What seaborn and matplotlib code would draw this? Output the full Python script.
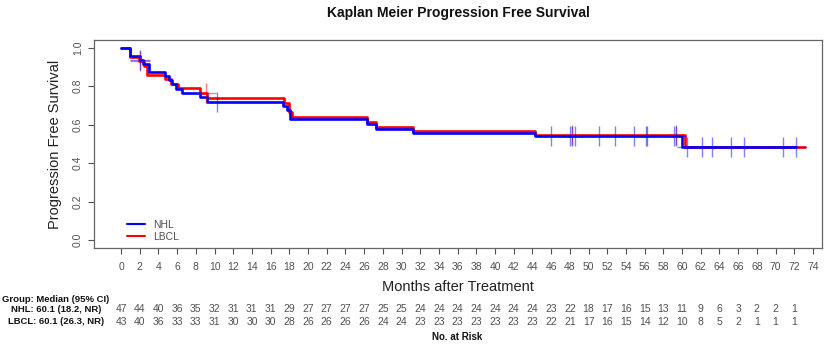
import numpy as np
import pandas as pd
import matplotlib
matplotlib.use("Agg")
import matplotlib.pyplot as plt
import matplotlib.transforms as mtrans
from matplotlib.lines import Line2D
import seaborn as sns

# ---------------- data ----------------
title = "Kaplan Meier Progression Free Survival"
x_label = "Months after Treatment"
y_label = "Progression Free Survival"

nhl_time = [0, 1.0, 2.0, 2.4, 3.0, 4.7, 5.1, 5.5, 5.9, 6.5, 8.45, 9.2,
            17.3, 17.8, 18.1, 26.3, 27.3, 31.2, 44.3, 60.0, 72.2]
nhl_surv = [1.0, 0.957, 0.936, 0.915, 0.872, 0.851, 0.830, 0.809, 0.787, 0.766,
            0.742, 0.716, 0.697, 0.675, 0.632, 0.606, 0.580, 0.555, 0.540, 0.485, 0.485]
nhl_censor = [2.0, 10.3, 46.0, 48.0, 48.2, 48.6, 51.1, 52.8, 54.9, 56.2, 56.3,
              59.1, 59.4, 60.5, 62.1, 63.2, 65.2, 66.6, 70.8, 72.2]

lbcl_time = [0, 1.0, 1.9, 2.5, 2.8, 4.7, 5.3, 6.1, 8.45, 9.2, 17.4, 18.0, 18.3,
             26.3, 27.3, 31.2, 44.3, 60.3, 73.2]
lbcl_surv = [1.0, 0.953, 0.930, 0.907, 0.858, 0.835, 0.812, 0.789, 0.763, 0.738,
             0.713, 0.664, 0.641, 0.615, 0.589, 0.566, 0.546, 0.485, 0.485]
lbcl_censor = [2.0, 9.05, 48.2, 59.4]

x_ticks = list(range(0, 75, 2))
y_ticks = [0.0, 0.2, 0.4, 0.6, 0.8, 1.0]
risk_times = list(range(0, 73, 2))
nhl_risk = [47, 44, 40, 36, 35, 32, 31, 31, 31, 29, 27, 27, 27, 27, 25, 25, 24, 24, 24,
            24, 24, 24, 24, 23, 22, 18, 17, 16, 15, 13, 11, 9, 6, 3, 2, 2, 1]
lbcl_risk = [43, 40, 36, 33, 33, 31, 30, 30, 30, 28, 26, 26, 26, 26, 24, 24, 23, 23, 23,
             23, 23, 23, 23, 22, 21, 17, 16, 15, 14, 12, 10, 8, 5, 2, 1, 1, 1]
risk_header = "Group: Median (95% CI)"
nhl_label = "NHL: 60.1 (18.2, NR)"
lbcl_label = "LBCL: 60.1 (26.3, NR)"
risk_title = "No. at Risk"

# ---------------- style ----------------
sns.set_style("white")
plt.rcParams["font.family"] = ["Liberation Sans", "DejaVu Sans"]
GRAY = "#505050"

fig = plt.figure(figsize=(8.3, 3.46), dpi=100)
ax = fig.add_axes([94 / 830, 1 - 248 / 346, 728 / 830, 208 / 346])

curves = [
    ("LBCL", lbcl_time, lbcl_surv, lbcl_censor, "#FF0000"),
    ("NHL", nhl_time, nhl_surv, nhl_censor, "#0000FF"),
]

for name, t, s, cens, col in curves:
    df = pd.DataFrame({"time": t, "surv": s})
    sns.lineplot(data=df, x="time", y="surv", ax=ax, color=col, lw=1.9,
                 drawstyle="steps-post", estimator=None, sort=False, legend=False)

for name, t, s, cens, col in curves:
    ta = np.asarray(t)
    sa = np.asarray(s)
    idx = np.searchsorted(ta, np.asarray(cens), side="right") - 1
    cdf = pd.DataFrame({"time": cens, "surv": sa[idx]})
    sns.scatterplot(data=cdf, x="time", y="surv", ax=ax, marker="+", s=220,
                    color=col, alpha=0.5, linewidth=1.0, legend=False, zorder=4)

ax.set_xlim(-2.89, 74.97)
ax.set_ylim(-0.04, 1.04)
ax.set_xticks(x_ticks)
ax.set_xticklabels([str(v) for v in x_ticks])
ax.set_yticks(y_ticks)
ax.set_yticklabels([f"{v:.1f}" for v in y_ticks], rotation=90, va="center")
ax.tick_params(axis="both", which="both", direction="out", length=4, width=0.8,
               color=GRAY, labelcolor=GRAY, labelsize=7.5, pad=5,
               bottom=True, left=True)
ax.tick_params(axis="x", pad=6)
ax.tick_params(axis="y", pad=4)
for sp in ax.spines.values():
    sp.set_color("#666666")
    sp.set_linewidth(0.9)
ax.set_xlabel("")
ax.set_ylabel(y_label, fontsize=10.5, color="#222222", labelpad=8)

handles = [Line2D([0], [0], color="#0000FF", lw=1.5),
           Line2D([0], [0], color="#FF0000", lw=1.5)]
ax.legend(handles, ["NHL", "LBCL"], loc="lower left",
          bbox_to_anchor=(0.046, 0.03), frameon=False, fontsize=7.5,
          handlelength=1.7, handletextpad=0.8, labelspacing=0.2,
          borderpad=0, borderaxespad=0, labelcolor=GRAY)

fig.text(458 / 830, 1 - 13 / 346, title, ha="center", va="center",
         fontsize=10, fontweight="bold", color="#111111")
fig.text(458 / 830, 1 - 287 / 346, x_label, ha="center", va="center",
         fontsize=10.5, color="#222222")

tr = mtrans.blended_transform_factory(ax.transData, fig.transFigure)
for xt, n1, n2 in zip(risk_times, nhl_risk, lbcl_risk):
    ax.text(xt, 1 - 309 / 346, str(n1), transform=tr, ha="center", va="center",
            fontsize=7.5, color=GRAY, clip_on=False)
    ax.text(xt, 1 - 322 / 346, str(n2), transform=tr, ha="center", va="center",
            fontsize=7.5, color=GRAY, clip_on=False)

fig.text(56 / 830, 1 - 299 / 346, risk_header, ha="center", va="center",
         fontsize=6.8, fontweight="bold", color="#111111")
fig.text(56 / 830, 1 - 309.5 / 346, nhl_label, ha="center", va="center",
         fontsize=6.8, fontweight="bold", color="#111111")
fig.text(56 / 830, 1 - 322 / 346, lbcl_label, ha="center", va="center",
         fontsize=6.8, fontweight="bold", color="#111111")
fig.text(457 / 830, 1 - 337 / 346, risk_title, ha="center", va="center",
         fontsize=7, fontweight="bold", color="#111111")

fig.savefig("out.png", dpi=100)
